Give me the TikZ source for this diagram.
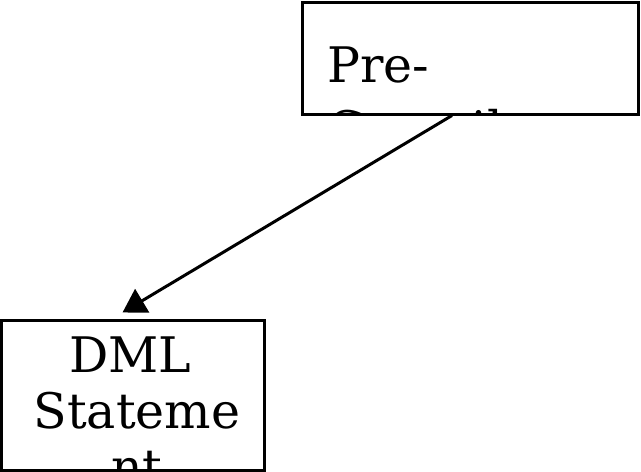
\documentclass[tikz,border=0pt]{standalone}
\usepackage{fontspec}
\setmainfont{DejaVu Serif}
\usetikzlibrary{arrows.meta}
\begin{document}
\begin{tikzpicture}[x=1pt,y=-1pt,
  box/.style={draw, line width=3pt, minimum width=#1},
  box/.default=100pt,
  lbl/.style={font=\fontsize{49}{58}\selectfont, inner sep=0pt},
  conn/.style={line width=3pt, -{Triangle[length=23pt,width=27pt]}}]
\useasboundingbox[fill=white] (0,0) rectangle (641,472);
% top box text (clipped)
\begin{scope}
\clip (302,2) rectangle (638,115);
\node[lbl, anchor=base west] (pre1) at (327,82) {Pre-};
\node[lbl, anchor=base west] (pre2) at (327,146) {Compiler};
\end{scope}
\node[box=336pt, minimum height=112pt] (pre) at (470,58) {};
% bottom box text (clipped)
\begin{scope}
\clip (1,320) rectangle (264,470);
\node[lbl, anchor=base] (dml1) at (130,372) {DML};
\node[lbl, anchor=base] (dml2) at (137,428) {Stateme};
\node[lbl, anchor=base] (dml3) at (137,484) {nt};
\end{scope}
\node[box=263pt, minimum height=150pt] (dml) at (132.5,395) {};
\coordinate (start) at ([xshift=-18pt]pre.south);
\coordinate (tip) at ([xshift=-10pt,yshift=6pt]dml.north);
\draw[conn] (start) -- (tip);
\end{tikzpicture}
\end{document}
